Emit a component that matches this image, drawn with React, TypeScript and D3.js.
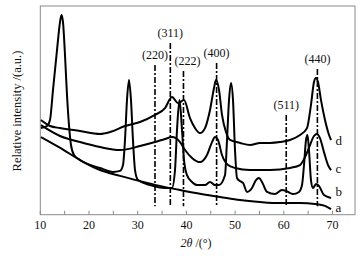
import React from "react";
import * as d3 from "d3";

const W = 363;
const H = 256;

// 2θ (°) vs relative intensity (a.u.)
const curveA: [number, number][] = [
  [10.14, 37.2], [14.1, 32.0], [18.15, 26.2], [22.26, 21.4], [26.37, 18.6], [30.5, 16.1],
  [34.58, 13.8], [38.69, 11.8], [42.79, 10.0], [46.9, 8.5], [51.01, 7.0], [55.11, 6.1],
  [59.22, 5.6], [63.33, 5.6], [66.41, 5.1], [68.46, 4.2], [69.7, 2.7],
];

const curveB: [number, number][] = [
  [10.14, 41.5], [11.38, 42.5], [11.99, 45.4], [12.61, 59.8], [13.43, 78.9], [14.05, 92.3],
  [14.35, 95.7], [14.66, 92.3], [15.07, 76.5], [15.48, 57.4], [15.89, 43.0], [16.3, 33.4],
  [16.92, 28.6], [18.15, 26.2], [22.26, 22.4], [24.93, 20.5], [26.37, 21.0], [26.98, 23.8],
  [27.39, 35.8], [27.8, 54.9], [28.21, 64.5], [28.62, 54.9], [29.03, 35.8], [29.45, 21.4],
  [30.06, 16.6], [32.53, 14.2], [35.61, 12.8], [37.04, 12.8], [37.66, 21.4], [38.07, 40.6],
  [38.58, 54.9], [39.1, 40.6], [39.51, 26.2], [40.12, 19.0], [41.15, 15.7], [42.18, 14.2],
  [43.82, 14.2], [44.85, 15.7], [45.88, 14.2], [46.7, 14.2], [47.93, 19.0], [48.34, 35.8],
  [48.75, 54.9], [49.16, 63.1], [49.57, 54.9], [49.98, 31.0], [50.39, 17.6], [51.01, 16.1],
  [51.63, 15.2], [52.45, 10.9], [53.47, 12.8], [54.29, 16.6], [54.91, 17.6], [55.52, 15.7],
  [56.55, 10.9], [58.19, 9.9], [59.63, 11.8], [60.45, 11.4], [61.89, 9.9], [63.12, 10.9],
  [63.74, 14.2], [64.15, 23.8], [64.56, 35.8], [64.86, 38.2], [65.17, 31.0], [65.58, 16.6],
  [65.99, 12.8], [66.61, 14.7], [67.22, 13.8], [68.25, 9.4], [69.7, 8.0],
];

const curveC: [number, number][] = [
  [10.14, 42.9], [14.05, 37.7], [18.15, 34.8], [22.26, 32.4], [26.37, 31.0], [30.47, 32.9],
  [33.55, 34.8], [35.61, 36.3], [37.04, 37.2], [38.69, 34.8], [39.72, 31.0], [41.15, 27.2],
  [42.79, 25.2], [44.23, 28.6], [45.26, 34.8], [45.88, 37.2], [46.49, 35.8], [47.31, 28.6],
  [48.55, 23.8], [49.98, 22.4], [53.06, 21.4], [57.16, 21.4], [61.27, 22.4], [63.33, 23.8],
  [64.56, 28.6], [65.38, 33.4], [66.2, 37.7], [66.81, 38.7], [67.43, 36.7], [68.25, 30.0],
  [69.08, 23.8], [69.7, 21.4],
];

const curveD: [number, number][] = [
  [10.14, 45.4], [12.0, 42.5], [14.05, 41.5], [18.15, 40.1], [22.26, 38.7], [24.31, 39.6],
  [27.39, 42.5], [30.47, 44.4], [33.55, 47.8], [35.61, 51.1], [37.04, 56.4], [38.28, 53.5],
  [39.51, 54.9], [40.74, 46.3], [41.77, 41.5], [42.79, 39.1], [43.82, 41.5], [44.85, 50.2],
  [45.67, 60.7], [46.08, 64.5], [46.7, 59.8], [47.31, 47.8], [48.13, 39.6], [48.95, 35.8],
  [51.01, 34.4], [53.06, 33.4], [55.11, 34.4], [57.16, 34.4], [59.22, 34.8], [61.27, 35.8],
  [63.33, 38.2], [64.76, 41.5], [65.58, 52.6], [66.2, 63.6], [66.61, 65.5], [67.02, 63.6],
  [67.64, 54.9], [68.46, 45.4], [69.29, 38.2], [69.7, 35.8],
];

const curveNames = ["a", "b", "c", "d"];
const curveLabelI = [1.3, 9.0, 20.0, 33.4];
const curveLabelTheta = 70.6;

const peakLabels = ["(220)", "(311)", "(222)", "(400)", "(511)", "(440)"];
const peakTheta = [33.55, 36.7, 39.4, 46.2, 60.5, 66.9];
const peakTop = [71.7, 82.3, 68.9, 72.7, 47.8, 69.8];
const peakLabelShift = [0, 0, 4, 0, 0, 0];
const peakBottom = 4;

const xTicks = [10, 20, 30, 40, 50, 60, 70];
const xMinorTicks = [15, 25, 35, 45, 55, 65];

export default function App() {
  const left = 40.3;
  const right = 355;
  const top = 6;
  const bottom = 214.7;

  const x = d3.scaleLinear().domain([10, 74.62]).range([left, right]);
  const y = d3.scaleLinear().domain([0, 100]).range([bottom, top]);

  const line = d3
    .line<[number, number]>()
    .x((d) => x(d[0]))
    .y((d) => y(d[1]))
    .curve(d3.curveMonotoneX);

  const curves = [curveA, curveB, curveC, curveD];
  const font = "'Liberation Serif', 'Times New Roman', serif";
  const gray = "#8a8a8a";

  return (
    <svg
      width={W}
      height={H}
      style={{ position: "absolute", left: 0, top: 0, background: "#fff" }}
      fontFamily={font}
    >
      <rect x={left} y={top} width={right - left} height={bottom - top} fill="#fff" stroke={gray} strokeWidth={1} />
      {[...xTicks, ...xMinorTicks].map((t) => (
        <line key={"t" + t} x1={x(t)} x2={x(t)} y1={bottom} y2={bottom - 4} stroke={gray} strokeWidth={1} />
      ))}
      {xTicks.map((t) => (
        <text key={"l" + t} x={x(t)} y={228.5} fontSize={12} textAnchor="middle" fill="#111">
          {t}
        </text>
      ))}
      <text x={196} y={246.5} fontSize={12} textAnchor="middle" fill="#111">
        <tspan fontStyle="italic">2θ</tspan>
        <tspan> /(°)</tspan>
      </text>
      <text
        transform={`translate(21,111) rotate(-90)`}
        fontSize={12.5}
        textAnchor="middle"
        fill="#111"
      >
        Relative intensity /(a.u.)
      </text>

      {peakTheta.map((t, i) => (
        <g key={"p" + i}>
          <line
            x1={x(t)}
            x2={x(t)}
            y1={y(peakTop[i])}
            y2={y(peakBottom)}
            stroke="#000"
            strokeWidth={1.6}
            strokeDasharray="6,2,2,2"
          />
          <text
            x={x(t) + peakLabelShift[i]}
            y={y(peakTop[i]) - 6}
            fontSize={12}
            textAnchor="middle"
            fill="#111"
          >
            {peakLabels[i]}
          </text>
        </g>
      ))}

      {curves.map((c, i) => (
        <path key={"c" + i} d={line(c) || ""} fill="none" stroke="#000" strokeWidth={2} strokeLinejoin="round" />
      ))}
      {curveNames.map((n, i) => (
        <text key={"n" + n} x={x(curveLabelTheta)} y={y(curveLabelI[i])} fontSize={13} fill="#111">
          {n}
        </text>
      ))}
    </svg>
  );
}
